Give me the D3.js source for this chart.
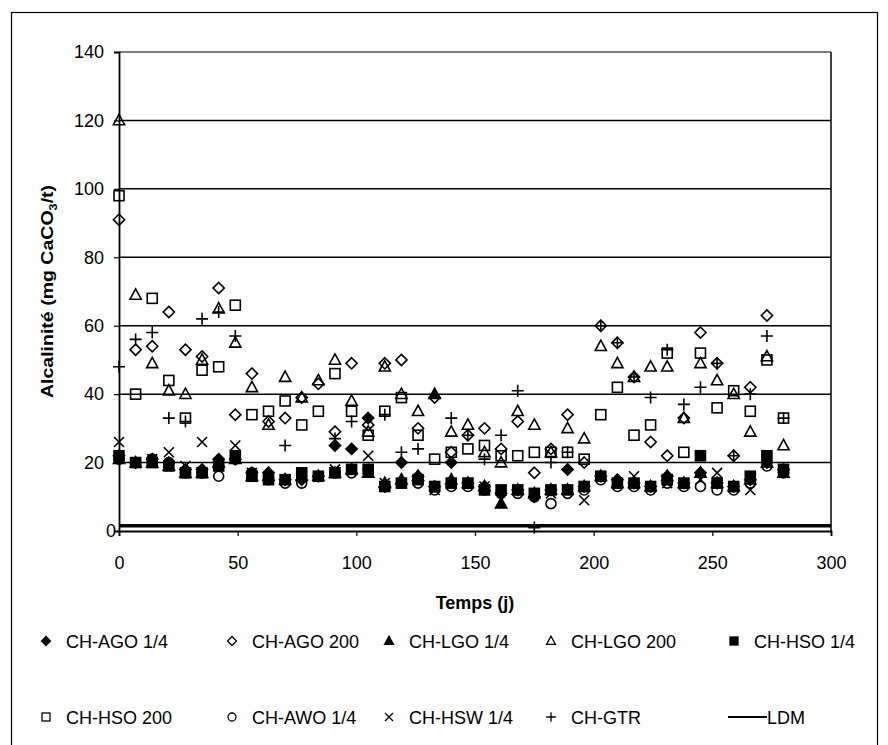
<!DOCTYPE html>
<html><head><meta charset="utf-8">
<script src="https://cdn.jsdelivr.net/npm/d3@7"></script>
<style>body{margin:0;background:#fff}svg{display:block}text{font-family:"Liberation Sans",Arial,sans-serif}</style>
</head><body><svg id="c" width="888" height="745"></svg>
<script>
const days = [0,7,14,21,28,35,42,49,56,63,70,77,84,91,98,105,112,119,126,133,140,147,154,161,168,175,182,189,196,203,210,217,224,231,238,245,252,259,266,273,280];
const AGO14 = [22,20,21,20,18,18,21,21,17,17,15,15,16,25,24,33,13,20,16,13,20,14,13,11,12,10,12,18,13,16,15,14,13,16,14,17,14,13,15,20,18];
const AGO200 = [91,53,54,64,53,51,71,34,46,32,33,39,43,29,49,31,49,50,30,39,23,28,30,24,32,17,24,34,20,60,55,45,26,22,33,58,49,22,42,63,null];
const LGO14 = [21,20,20,19,17,17,20,21,16,16,15,16,16,17,18,17,14,15,16,40,15,14,13,8,12,11,12,12,13,16,14,14,13,16,14,17,14,13,15,20,17];
const LGO200 = [120,69,49,41,40,50,65,55,42,31,45,39,44,50,38,29,48,40,35,null,29,31,23,20,35,31,23,30,27,54,49,45,48,48,33,49,44,40,29,51,25];
const HSO14 = [22,20,20,19,17,17,19,22,16,15,15,17,16,17,18,18,13,14,15,13,14,14,12,12,12,11,12,12,13,16,14,14,13,15,14,22,14,13,16,22,18];
const HSO200 = [98,40,68,44,33,47,48,66,34,35,38,31,35,46,35,28,35,39,28,21,23,24,25,22,22,23,23,23,21,34,42,28,31,52,23,52,36,41,35,50,33];
const AWO14 = [21,20,21,20,17,17,16,21,17,15,14,14,16,17,17,18,13,14,14,12,13,13,12,11,11,10,8,11,12,15,13,13,12,14,13,13,12,12,14,19,17];
const HSW14 = [26,20,21,23,19,26,19,25,17,16,15,16,16,18,18,22,14,14,15,12,14,14,13,12,12,11,11,12,9,16,14,16,13,14,14,15,17,13,12,20,17];
const GTR = [48,56,58,33,32,62,64,57,null,null,25,null,null,27,32,null,34,23,24,null,33,28,21,28,41,1,20,23,null,60,55,45,39,53,37,42,49,22,40,57,33];
const ldmDays = [0,300];
const ldmValue = 1.5;
const yTicks = [0,20,40,60,80,100,120,140];
const xTicks = [0,50,100,150,200,250,300];

const series = [
  {name:"CH-AGO 1/4", data:AGO14, shape:"diamond", filled:true},
  {name:"CH-AGO 200", data:AGO200, shape:"diamond", filled:false},
  {name:"CH-LGO 1/4", data:LGO14, shape:"triangle", filled:true},
  {name:"CH-LGO 200", data:LGO200, shape:"triangle", filled:false},
  {name:"CH-HSO 1/4", data:HSO14, shape:"square", filled:true},
  {name:"CH-HSO 200", data:HSO200, shape:"square", filled:false},
  {name:"CH-AWO 1/4", data:AWO14, shape:"circle", filled:false},
  {name:"CH-HSW 1/4", data:HSW14, shape:"x", filled:false},
  {name:"CH-GTR", data:GTR, shape:"plus", filled:false}
];

const svg = d3.select("#c");
const L=119, R=831, T=52, B=531;
const x = d3.scaleLinear().domain([0,300]).range([L,R]);
const y = d3.scaleLinear().domain([0,140]).range([B,T]);

svg.append("rect").attr("x",11.5).attr("y",12.5).attr("width",866).attr("height",760)
  .attr("fill","none").attr("stroke","#000").attr("stroke-width",1.2);

svg.append("g").selectAll("line").data(yTicks.filter(d=>d>0)).join("line")
  .attr("x1",L).attr("x2",R).attr("y1",d=>y(d)).attr("y2",d=>y(d))
  .attr("stroke","#000").attr("stroke-width",d=>d===140?1:1.5);
svg.append("line").attr("x1",R).attr("x2",R).attr("y1",T).attr("y2",B).attr("stroke","#000").attr("stroke-width",1.5);

const gx = svg.append("g").attr("transform",`translate(0,${B})`)
  .call(d3.axisBottom(x).tickValues(xTicks).tickSize(5).tickPadding(20).tickFormat(d3.format("d")));
const gy = svg.append("g").attr("transform",`translate(${L},0)`)
  .call(d3.axisLeft(y).tickValues(yTicks).tickSize(5).tickPadding(10).tickFormat(d3.format("d")));
[gx,gy].forEach(g=>{
  g.select(".domain").attr("stroke","#000").attr("stroke-width",1.8);
  g.selectAll(".tick line").attr("stroke","#000").attr("stroke-width",1.2);
  g.selectAll("text").attr("fill","#000").style("font-size","18px").style("font-family","'Liberation Sans',Arial,sans-serif");
});
gy.selectAll(".tick").filter(d=>d===0).select("text").attr("x",-3);

svg.append("text").attr("x",(L+R)/2).attr("y",609).attr("text-anchor","middle")
  .style("font-size","18px").style("font-weight","bold").text("Temps (j)");
const yt = svg.append("text").attr("transform",`translate(53,${(T+B)/2}) rotate(-90) scale(1.15,1)`).attr("text-anchor","middle")
  .style("font-size","17px").style("font-weight","bold");
yt.append("tspan").text("Alcalinité (mg CaCO");
yt.append("tspan").attr("dy",4).style("font-size","11px").text("3");
yt.append("tspan").attr("dy",-4).text("/t)");

svg.append("line").attr("x1",x(ldmDays[0])).attr("x2",x(ldmDays[1]))
  .attr("y1",y(ldmValue)).attr("y2",y(ldmValue)).attr("stroke","#000").attr("stroke-width",3.5);

function drawMarker(g, shape, filled){
  const fill = filled ? "#000" : "none";
  const sw = 1.6;
  if(shape==="diamond") g.append("path").attr("d","M0,-5.6L5.6,0L0,5.6L-5.6,0Z").attr("fill",fill).attr("stroke","#000").attr("stroke-width",sw);
  else if(shape==="triangle") g.append("path").attr("d","M0,-6L5.6,4.3L-5.6,4.3Z").attr("fill",fill).attr("stroke","#000").attr("stroke-width",sw);
  else if(shape==="square") g.append("rect").attr("x",-5).attr("y",-5).attr("width",10).attr("height",10).attr("fill",fill).attr("stroke","#000").attr("stroke-width",sw);
  else if(shape==="circle") g.append("circle").attr("r",5).attr("fill",fill).attr("stroke","#000").attr("stroke-width",sw);
  else if(shape==="x") g.append("path").attr("d","M-5,-5L5,5M-5,5L5,-5").attr("fill","none").attr("stroke","#000").attr("stroke-width",sw);
  else if(shape==="plus") g.append("path").attr("d","M-6,0L6,0M0,-6L0,6").attr("fill","none").attr("stroke","#000").attr("stroke-width",sw);
}

series.forEach(s=>{
  const pts = days.map((d,i)=>({d, v:s.data[i]})).filter(p=>p.v!==null);
  const g = svg.append("g");
  pts.forEach(p=>{
    const m = g.append("g").attr("transform",`translate(${x(p.d)},${y(p.v)})`);
    drawMarker(m, s.shape, s.filled);
  });
});

const legCols = [46,232,389,551,734];
const legRows = [641,717];
const items = series.map(s=>({name:s.name, shape:s.shape, filled:s.filled})).concat([{name:"LDM", shape:"line"}]);
items.forEach((it,i)=>{
  const r = Math.floor(i/5), c = i%5;
  const g = svg.append("g").attr("transform",`translate(${legCols[c]},${legRows[r]})`);
  if(it.shape==="line"){
    g.append("line").attr("x1",-6).attr("x2",33).attr("y1",0).attr("y2",0).attr("stroke","#000").attr("stroke-width",2);
    g.append("text").attr("x",33).attr("y",7).style("font-size","18px").text(it.name);
  } else {
    const m = g.append("g").attr("transform","scale(0.8)");
    drawMarker(m, it.shape, it.filled);
    g.append("text").attr("x",20).attr("y",7).style("font-size","18px").text(it.name);
  }
});
</script></body></html>
